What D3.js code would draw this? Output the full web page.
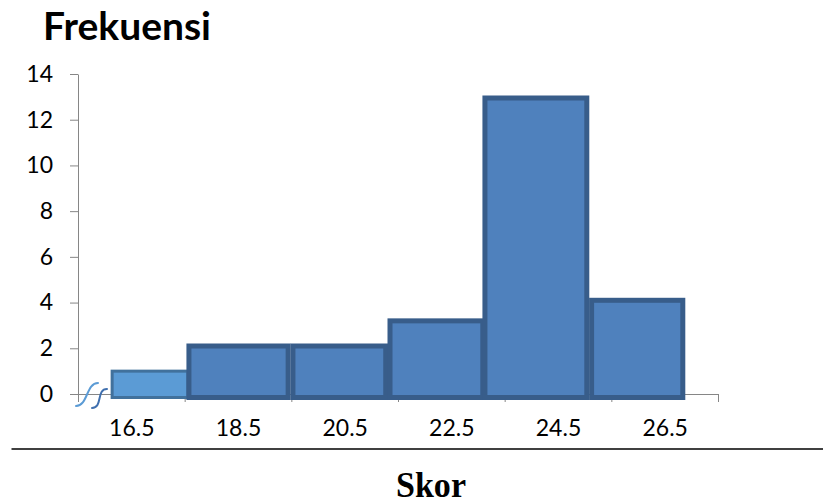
<!DOCTYPE html>
<html><head><meta charset="utf-8">
<script src="https://cdn.jsdelivr.net/npm/d3@7"></script>
<style>body{margin:0;background:#fff} svg{display:block}</style>
</head><body>
<svg id="chart" width="823" height="504"></svg>
<script>
// Score classes (midpoints shown on the axis) and their frequencies
const scoreLabels = [16.5, 18.5, 20.5, 22.5, 24.5, 26.5];
const binStart    = [16.14, 17.58, 19.53, 21.35, 23.13, 25.13];
const binEnd      = [17.56, 19.44, 21.27, 23.09, 25.04, 26.84];
const frequencies = [1, 2.1, 2.1, 3.2, 12.95, 4.1];
const classEdges  = [15.5, 17.5, 19.5, 21.5, 23.5, 25.5, 27.5];
const yTicks      = [0, 2, 4, 6, 8, 10, 12, 14];

const svg = d3.select("#chart");
const FONT = "Lato, 'Open Sans', sans-serif";

const x = d3.scaleLinear().domain([15.5, 27.5]).range([78, 718]);
const y = d3.scaleLinear().domain([0, 14]).range([394, 74]);

// Title
svg.append("text")
  .attr("x", 43).attr("y", 40)
  .attr("font-family", FONT).attr("font-weight", 700).attr("font-size", 39)
  .attr("fill", "#000").text("Frekuensi");

// Y axis
const yAxis = svg.append("g").attr("transform", `translate(${x(15.5)},0)`)
  .call(d3.axisLeft(y).tickValues(yTicks).tickSize(8).tickSizeOuter(0).tickPadding(17));
yAxis.selectAll("path, line").attr("stroke", "#868686");
yAxis.selectAll("text").attr("font-family", FONT).attr("font-size", 23).attr("fill", "#000");

// X axis: class boundary ticks
const xAxis = svg.append("g").attr("transform", `translate(0,${y(0)})`)
  .call(d3.axisBottom(x).tickValues(classEdges).tickSize(8).tickSizeOuter(0).tickFormat(""));
xAxis.selectAll("path, line").attr("stroke", "#868686");

// X axis: midpoint labels
const xLabels = svg.append("g").attr("transform", `translate(0,${y(0)})`)
  .call(d3.axisBottom(x).tickValues(scoreLabels).tickSize(0).tickPadding(26)
    .tickFormat(d3.format(".1f")));
xLabels.select("path").remove();
xLabels.selectAll("text").attr("font-family", FONT).attr("font-size", 23).attr("fill", "#000");

// Histogram bars
const bars = frequencies.map((f, i) => ({ f, x0: binStart[i], x1: binEnd[i], i }));
svg.append("g").selectAll("rect").data(bars).join("rect")
  .attr("x", d => x(d.x0))
  .attr("width", d => x(d.x1) - x(d.x0))
  .attr("y", d => y(d.f))
  .attr("height", d => y(0) + 3.5 - y(d.f))
  .attr("fill", d => d.i === 0 ? "#5b9bd5" : "#4f81bd")
  .attr("stroke", d => d.i === 0 ? "#41719c" : "#385d8a")
  .attr("stroke-width", d => d.i === 0 ? 3 : 5);

// Axis break marks near the origin
const ox = x(15.5), oy = y(0);
const brk = svg.append("g").attr("fill", "none").attr("stroke-width", 2).attr("stroke-linecap", "round");
brk.append("path")
  .attr("d", `M${ox - 2},${oy + 12} C${ox + 10},${oy + 12} ${ox + 8},${oy - 11} ${ox + 20},${oy - 11}`)
  .attr("stroke", "#5b9bd5");
brk.append("path")
  .attr("d", `M${ox + 14},${oy + 14} C${ox + 25},${oy + 14} ${ox + 18},${oy - 5} ${ox + 29},${oy - 5}`)
  .attr("stroke", "#3f6fae");

// Separator rule and axis caption
svg.append("line").attr("x1", 11.5).attr("x2", 823).attr("y1", 449).attr("y2", 449)
  .attr("stroke", "#000").attr("stroke-width", 1.5);
svg.append("text")
  .attr("x", 431).attr("y", 497).attr("text-anchor", "middle")
  .attr("font-family", "'Liberation Serif', 'Times New Roman', serif")
  .attr("font-weight", 700).attr("font-size", 36).attr("fill", "#000")
  .attr("textLength", 70).attr("lengthAdjust", "spacingAndGlyphs")
  .text("Skor");
</script>
</body></html>
